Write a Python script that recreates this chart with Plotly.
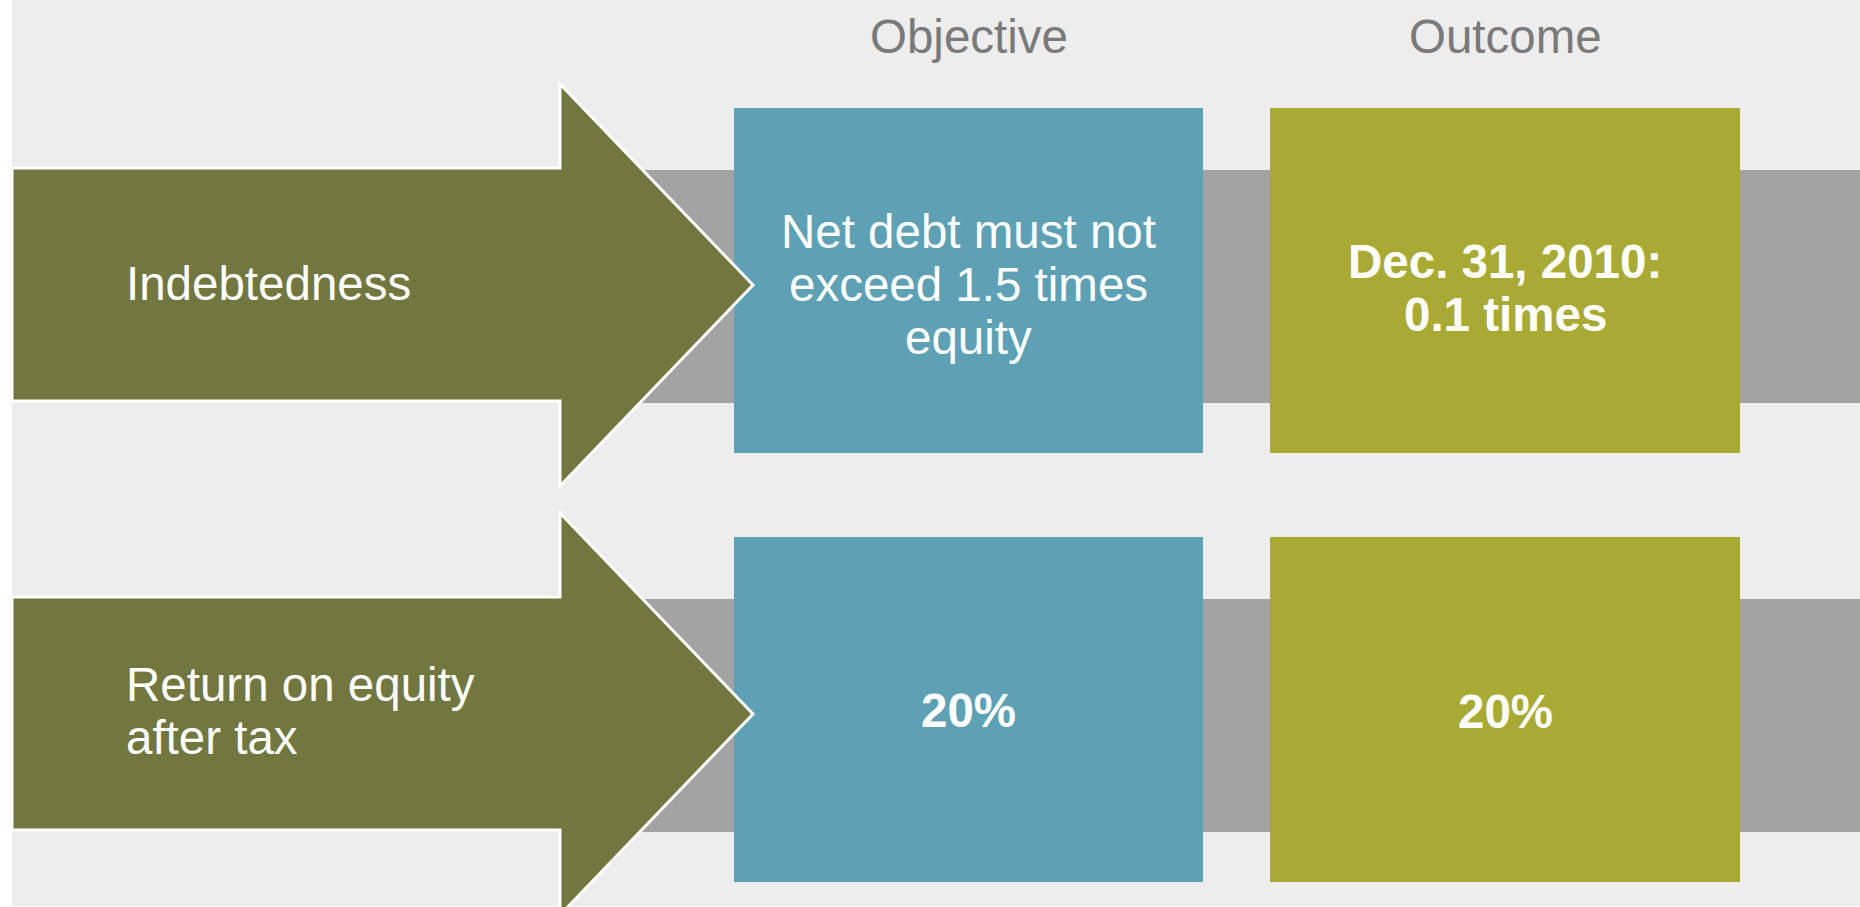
import plotly.graph_objects as go

# ---- content ----
headers = ["Objective", "Outcome"]
row_labels = [["Indebtedness"], ["Return on equity", "after tax"]]
objective_lines = [["Net debt must not", "exceed 1.5 times", "equity"], ["20%"]]
objective_bold = [False, True]
outcome_lines = [["Dec. 31, 2010:", "0.1 times"], ["20%"]]
outcome_bold = [True, True]

# ---- colours ----
BG = "#ededed"
ARROW = "#72763f"
BAND = "#a3a3a3"
BLUE = "#5ea1b5"
GREEN = "#a9aa33"
HEAD_GRAY = "#7a7a7a"
FONT = "Liberation Sans, Arial, sans-serif"

# ---- layout geometry (pixel space) ----
W, H = 1860, 907
strip = 12
row_shift = [0, 429]
shaft_x0, shaft_x1, tip_x = strip, 560, 753
shaft_top, shaft_bot, head_top, head_bot, tip_y = 168, 401, 84, 486, 285
band_top, band_bot = 170, 403
box_top, box_bot = 108, 453
blue_x = (734, 1203)
green_x = (1270, 1740)
label_x = 124
line_gap = 53
font_size = 47.5
label_center = [283, 711]
objective_center = [284, 710]
outcome_center = [288, 711]
header_y = 36

fig = go.Figure()
shapes = []
annotations = []

# background
shapes.append(dict(type="rect", x0=strip, x1=W, y0=0, y1=906, fillcolor=BG,
                   line=dict(width=0), layer="below"))


def add_lines(lines, x, xanchor, bold, center):
    n = len(lines)
    for i, t in enumerate(lines):
        y = center + (i - (n - 1) / 2) * line_gap
        annotations.append(dict(
            x=x, y=y, xref="x", yref="y", text=f"<b>{t}</b>" if bold else t,
            showarrow=False, xanchor=xanchor, yanchor="middle",
            font=dict(family=FONT, size=font_size, color="white")))


for r, dy in enumerate(row_shift):
    # grey band
    shapes.append(dict(type="rect", x0=shaft_x1, x1=W, y0=band_top + dy, y1=band_bot + dy,
                       fillcolor=BAND, line=dict(width=0)))
    # boxes
    shapes.append(dict(type="rect", x0=blue_x[0], x1=blue_x[1], y0=box_top + dy, y1=box_bot + dy,
                       fillcolor=BLUE, line=dict(width=0)))
    shapes.append(dict(type="rect", x0=green_x[0], x1=green_x[1], y0=box_top + dy, y1=box_bot + dy,
                       fillcolor=GREEN, line=dict(width=0)))
    # arrow (drawn over the box edge)
    pts = [(shaft_x0, shaft_top), (shaft_x1, shaft_top), (shaft_x1, head_top), (tip_x, tip_y),
           (shaft_x1, head_bot), (shaft_x1, shaft_bot), (shaft_x0, shaft_bot)]
    path = "M " + " L ".join(f"{x},{y + dy}" for x, y in pts) + " Z"
    shapes.append(dict(type="path", path=path, fillcolor=ARROW, line=dict(color="white", width=3)))

    add_lines(row_labels[r], label_x, "left", False, label_center[r])
    add_lines(objective_lines[r], (blue_x[0] + blue_x[1]) / 2, "center", objective_bold[r],
              objective_center[r])
    add_lines(outcome_lines[r], (green_x[0] + green_x[1]) / 2, "center", outcome_bold[r],
              outcome_center[r])

for h, xs in zip(headers, [blue_x, green_x]):
    annotations.append(dict(x=(xs[0] + xs[1]) / 2, y=header_y, xref="x", yref="y", text=h,
                            showarrow=False, xanchor="center", yanchor="middle",
                            font=dict(family=FONT, size=font_size, color=HEAD_GRAY)))

fig.update_layout(
    width=W, height=H, margin=dict(l=0, r=0, t=0, b=0),
    paper_bgcolor="white", plot_bgcolor="white",
    xaxis=dict(range=[0, W], visible=False, fixedrange=True),
    yaxis=dict(range=[H, 0], visible=False, fixedrange=True),
    shapes=shapes, annotations=annotations, showlegend=False,
)
fig.write_html("out.html", config={"displayModeBar": False},
               post_script="document.body.style.margin='0';document.body.style.overflow='hidden';")
